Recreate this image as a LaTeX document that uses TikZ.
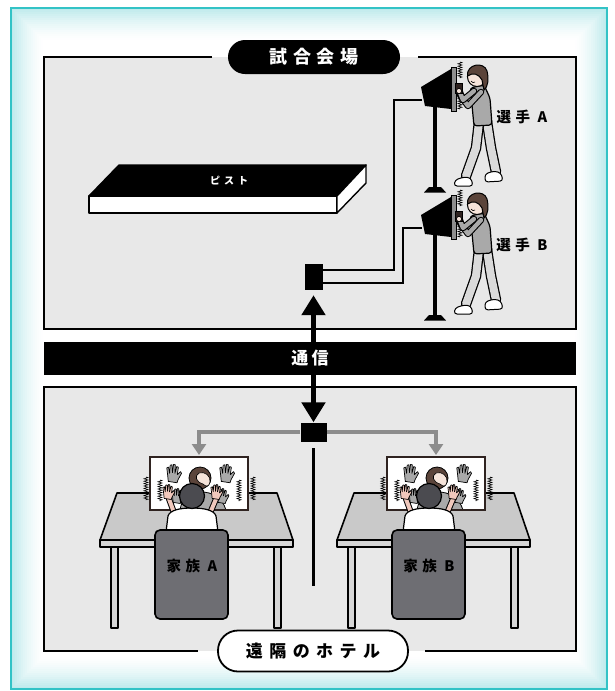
\documentclass[tikz,border=0pt]{standalone}
\usepackage{fontspec}
\newfontfamily\jp{Noto Sans CJK JP}
\usetikzlibrary{arrows.meta,decorations.pathmorphing}

\definecolor{frameteal}{HTML}{33C3C6}
\definecolor{glow}{HTML}{BFEAEC}
\definecolor{panel}{HTML}{E8E8E8}
\definecolor{tablecol}{HTML}{C9C9C9}
\definecolor{tableedge}{HTML}{D6D6D6}
\definecolor{chaircol}{HTML}{6E6E73}
\definecolor{sweater}{HTML}{A9A9A9}
\definecolor{pants}{HTML}{DADADA}
\definecolor{hair}{HTML}{5B443A}
\definecolor{skin}{HTML}{F6E4DA}
\definecolor{pinkskin}{HTML}{F0C8BC}
\definecolor{viewerhead}{HTML}{4B4B50}
\definecolor{feedgray}{HTML}{8C8C8C}
\definecolor{monframe}{HTML}{2F2320}
\definecolor{screengray}{HTML}{8E8E8E}

% small open hand with fingers pointing up: x, y, fill colour, scale
\newcommand\drawhand[4]{%
  \begin{scope}[shift={(#1,#2)}, scale=#4]
    \draw[line width=0.7pt, fill=#3, line join=round]
      (-3.5,4) -- (-4,-1) -- (-4.6,-6) -- (-3.3,-6.6) -- (-2.5,-2) -- (-2.1,-8)
      -- (-0.8,-8.3) -- (-0.4,-2.5) -- (0.4,-8.6) -- (1.7,-8.3) -- (1.4,-2)
      -- (2.8,-7) -- (4,-6.5) -- (3.2,-1) -- (5.6,-3.2) -- (6.3,-2) -- (3.6,3) -- (3,5) -- cycle;
  \end{scope}}

\begin{document}
\begin{tikzpicture}[x=1pt,y=-1pt,
  outline/.style={draw=black, line width=1.2pt, line join=round},
  panelline/.style={draw=black, line width=2.2pt},
  hub/.style={fill=black, inner sep=0pt},
  bigarrow/.style={line width=5pt, {Triangle[width=23pt,length=20pt]}-{Triangle[width=23pt,length=20pt]}},
  feed/.style={draw=feedgray, line width=3.5pt, -{Triangle[width=14pt,length=11pt]}},
  cable/.style={line width=2.5pt, line join=miter},
  zig/.style={line width=0.6pt, decorate, decoration={zigzag, segment length=2.4pt, amplitude=2pt}},
  venuepill/.style={fill=black, text=white, rounded corners=17pt, minimum width=172pt, minimum height=34pt, inner sep=0pt,
    font=\jp\bfseries\fontsize{18}{20}\selectfont\addfontfeature{LetterSpace=30}},
  hotelpill/.style={fill=white, draw=black, line width=1.8pt, text=black, rounded corners=20pt, minimum width=190pt, minimum height=41pt, inner sep=0pt,
    font=\jp\bfseries\fontsize{17}{19}\selectfont\addfontfeature{LetterSpace=38}},
  commbar/.style={fill=black, text=white, minimum width=532pt, minimum height=33pt, inner sep=0pt,
    font=\jp\bfseries\fontsize{17}{19}\selectfont\addfontfeature{LetterSpace=20}},
  who/.style={text=black, inner sep=0pt, font=\jp\bfseries\fontsize{14.5}{16}\selectfont\addfontfeature{LetterSpace=30}},
  pistelabel/.style={text=white, inner sep=0pt, font=\jp\bfseries\fontsize{10}{11}\selectfont\addfontfeature{LetterSpace=40}}
]
\useasboundingbox (0,0) rectangle (614,691);
\fill[white] (0,0) rectangle (614,691);

% soft cyan glow inside the frame
\foreach \i in {0,...,15}{
  \pgfmathtruncatemacro\c{round(100*(1-\i/16)^1.5)}
  \draw[line width=2.2pt, glow!\c!white] (12+2*\i,9+2*\i) rectangle (606-2*\i,688-2*\i);
}
\draw[frameteal, line width=1.8pt] (11,8) rectangle (607,689);

% ---------- venue panel ----------
\fill[panel] (44,57) rectangle (576,329);
\draw[panelline] (212,57) -- (44,57) -- (44,329) -- (576,329) -- (576,57) -- (418,57);
\node[venuepill] (venue) at (314,57) {試合会場};

% piste
\draw[outline, line width=1.4pt, fill=black] (89,196) -- (119,165) -- (366,165) -- (337,196) -- cycle;
\draw[outline, line width=1.4pt, fill=white] (89,196) rectangle (337,213);
\draw[outline, line width=1.4pt, fill=white] (337,196) -- (366,165) -- (366,183) -- (337,213) -- cycle;
\node[pistelabel] (piste) at (229,181) {ピスト};

% ---------- hotel panel ----------
\fill[panel] (44,387) rectangle (576,651);
\draw[panelline] (198,651) -- (44,651) -- (44,387) -- (576,387) -- (576,651) -- (425,651);

% hubs and the link between the sites
\node[hub, minimum width=18pt, minimum height=26pt] (hubtop) at (313.5,277) {};
\node[hub, minimum width=26pt, minimum height=19pt] (hubbot) at (313.5,432) {};
\draw[bigarrow, shorten <=5pt] (hubtop.south) -- (hubbot.north);
\node[commbar] (comm) at (310,358.5) {通信};

% fencers with their screens
\foreach \dy/\who in {0/A,128/B}{
  \begin{scope}[shift={(0,\dy)}]
    % stand
    \draw[line width=4pt] (435,105) -- (435,189);
    \fill (424,192.5) -- (429,187) -- (441,187) -- (446,192.5) -- cycle;
    % screen housing and face
    \fill (421,87) -- (451,69) -- (451,109) -- (425,106) -- cycle;
    \draw[line width=1pt, fill=screengray] (451,67) rectangle (456,111);
    \draw[zig] (460,62) -- (460,78);
    \draw[zig] (460,97) -- (460,109);
    % back leg
    \draw[line width=10.5pt, line cap=round, line join=round] (487,122) -- (491,148) -- (496,172);
    \draw[line width=8pt, pants, line cap=round, line join=round] (487,122) -- (491,148) -- (496,172);
    % front leg
    \draw[line width=10.5pt, line cap=round, line join=round] (479,122) -- (476,148) -- (466,176);
    \draw[line width=8pt, pants, line cap=round, line join=round] (479,122) -- (476,148) -- (466,176);
    % shoes
    \draw[outline, line width=1pt, fill=white, rounded corners=3] (485,174) -- (494,171) -- (501,173) -- (503,181) -- (485,182) -- cycle;
    \draw[outline, line width=1pt, fill=white, rounded corners=3] (455,180) -- (464,177) -- (471,178) -- (473,186) -- (454,186) -- cycle;
    % torso
    \draw[outline, fill=sweater, rounded corners=3] (470,88) -- (484,85) -- (490,98) -- (492,125) -- (474,126) -- (472,105) -- cycle;
    % arms reaching to the screen
    \draw[line width=6.5pt, line cap=round, line join=round] (481,92) -- (468,106) -- (460,95);
    \draw[line width=4.3pt, sweater, line cap=round, line join=round] (481,92) -- (468,106) -- (460,95);
    \draw[line width=6.5pt, line cap=round, line join=round] (474,91) -- (463,100) -- (459,90);
    \draw[line width=4.3pt, sweater, line cap=round, line join=round] (474,91) -- (463,100) -- (459,90);
    \draw[line width=0.8pt, fill=monframe] (455.5,83) rectangle (462,93);
    \draw[line width=0.7pt, fill=skin] (459,91) circle (2.6);
    % head
    \draw[outline, line width=1pt, fill=skin] (477,77) circle (9.5);
    \draw[line width=1pt, fill=hair] (467.5,76) .. controls (466,64) and (484,61) .. (487,71)
      .. controls (489,79) and (488,87) .. (484,90) -- (482,80) .. controls (479,74) and (473,72) .. (467.5,76) -- cycle;
    \draw[line width=0.6pt] (471,81) .. controls (472,83) and (474,83) .. (475,82);
    \node[who] (player\who) at (522,117) {選手 \who};
  \end{scope}
}

% cables from the screens to the hub
\coordinate (portA) at (422,100);
\coordinate (portB) at (422,228);
\coordinate (hubinA) at (322.5,270);
\coordinate (hubinB) at (322.5,283);
\draw[cable] (portA) -- ++(-28,0) |- (hubinA);
\draw[cable] (portB) -- ++(-19,0) |- (hubinB);

% video feed to the two rooms
\coordinate (monA) at (199,455);
\coordinate (monB) at (436,455);
\draw[feed] (hubbot.west) -| (monA);
\draw[feed] (hubbot.east) -| (monB);

% partition
\draw[line width=2.5pt] (313.5,448) -- (313.5,586);

% family rooms
\foreach \dx/\who in {0/A,237/B}{
  \begin{scope}[shift={(\dx,0)}]
    % table
    \draw[outline, line width=1.6pt, fill=tablecol] (117,493) -- (277,493) -- (293,540) -- (100,540) -- cycle;
    \draw[outline, line width=1.6pt, fill=tableedge] (100,540) rectangle (293,547);
    \draw[outline, line width=1.4pt, fill=tableedge] (111,547) rectangle (118,628);
    \draw[outline, line width=1.4pt, fill=tableedge] (274,547) rectangle (281,628);
    % monitor showing the fencer
    \draw[line width=2.5pt, draw=monframe, fill=white] (150,457) rectangle (248,510);
    \begin{scope}
      \clip (151.3,458.3) rectangle (246.7,508.7);
      \draw[outline, line width=0.8pt, fill=sweater] (180,510) .. controls (182,496) and (192,492) .. (201,492)
        .. controls (212,492) and (222,497) .. (226,510) -- cycle;
      \draw[line width=0.8pt, fill=hair] (200,478) circle (11);
      \draw[line width=0.6pt, fill=skin] (203,484) .. controls (196,482) and (194,476) .. (199,473)
        .. controls (205,471) and (211,476) .. (210,482) .. controls (209,487) and (206,487) .. (203,484) -- cycle;
      \drawhand{173}{476}{sweater}{1.35}
      \drawhand{226}{476}{sweater}{1.35}
      \drawhand{177}{498}{sweater}{1.1}
      \drawhand{222}{498}{sweater}{1.1}
    \end{scope}
    \draw[zig] (146,477) -- (146,500);
    \draw[zig] (160,480) -- (160,501);
    \draw[zig] (239,480) -- (239,501);
    \draw[zig] (253,477) -- (253,500);
    % viewer seen from behind
    \draw[line width=6pt, line cap=round] (176,518) -- (169,499);
    \draw[line width=4pt, pinkskin, line cap=round] (176,518) -- (169,499);
    \draw[line width=6pt, line cap=round] (208,518) -- (216,499);
    \draw[line width=4pt, pinkskin, line cap=round] (208,518) -- (216,499);
    \drawhand{168}{494}{pinkskin}{1.1}
    \drawhand{216}{494}{pinkskin}{1.1}
    \draw[outline, fill=white] (166,532) -- (168,516) .. controls (170,510) and (180,508) .. (192,508)
      .. controls (204,508) and (214,510) .. (216,516) -- (218,532) -- cycle;
    \draw[outline, fill=viewerhead] (192,496) circle (12.5);
    % chair
    \draw[outline, line width=1.6pt, fill=chaircol, rounded corners=5] (155,530) rectangle (228,619);
    \node[who] (family\who) at (192,566) {家族 \who};
  \end{scope}
}

\node[hotelpill] (hotel) at (313,651) {遠隔のホテル};
\end{tikzpicture}
\end{document}
